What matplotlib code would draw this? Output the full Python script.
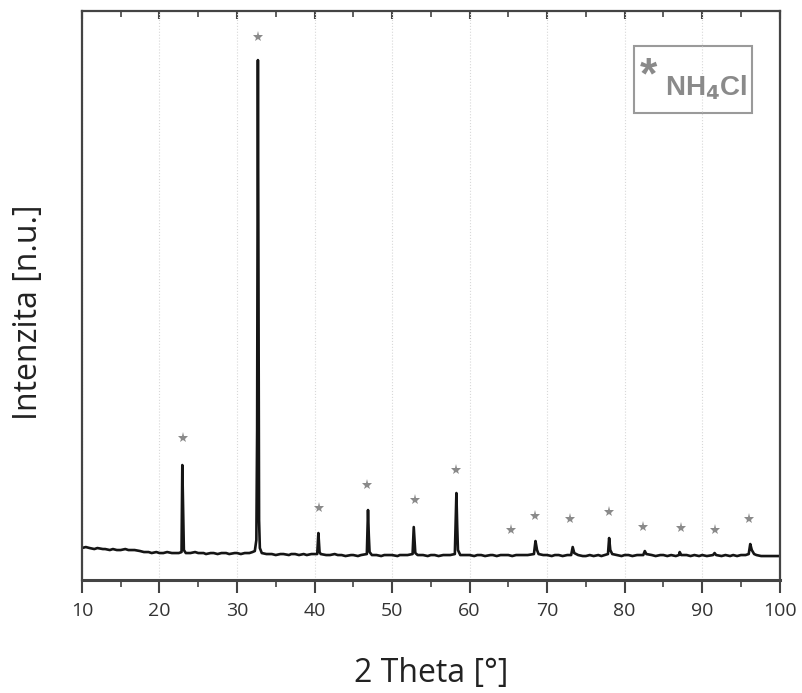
import matplotlib
matplotlib.use("Agg")
import matplotlib.pyplot as plt
from matplotlib.patches import Rectangle
from matplotlib.ticker import MultipleLocator

# diffraction pattern (2 theta, intensity in n.u.)
two_theta = [10, 10.5, 11, 11.6, 12, 12.7, 13, 13.6, 14, 14.5, 15, 15.6, 16, 16.8, 17.5, 18, 18.6,
             19, 19.6, 20, 20.5, 21, 21.6, 22, 22.5,
             22.85, 22.95, 23.05, 23.15, 23.4, 24, 24.6, 25, 25.7, 26, 26.6, 27, 27.5, 28,
             28.6, 29, 29.7, 30, 30.5, 31, 31.6, 32, 32.3,
             32.5, 32.6, 32.7, 32.78, 32.85, 32.95, 33.2, 33.8, 34.5, 35, 35.6, 36, 36.7,
             37, 37.5, 38, 38.6, 39, 39.6, 40, 40.35,
             40.5, 40.65, 40.8, 41.5, 42, 42.6, 43, 43.5, 44, 44.7, 45, 45.6, 46, 46.75,
             46.9, 47.0, 47.1, 47.4, 48, 48.6, 49, 49.5, 50, 50.7, 51, 51.5, 52, 52.65,
             52.8, 52.9, 53.0, 53.3, 54, 54.6, 55, 55.5, 56, 56.6, 57, 57.5, 58.1,
             58.3, 58.4, 58.5, 58.8, 59.5, 60, 60.6, 61, 61.5, 62, 62.7, 63, 63.5, 64,
             64.6, 65, 65.5, 66, 66.6, 67, 67.5, 68.3,
             68.5, 68.7, 68.9, 69.5, 70, 70.6, 71, 71.5, 72, 72.6, 73.1,
             73.3, 73.5, 74, 74.6, 75, 75.5, 76, 76.6, 77, 77.85,
             78.0, 78.15, 78.4, 79, 79.6, 80, 80.5, 81, 81.6, 82.4,
             82.6, 82.8, 83.5, 84, 84.6, 85, 85.5, 86, 86.6, 87.0,
             87.1, 87.3, 88, 88.5, 89, 89.6, 90, 90.6, 91.4,
             91.6, 91.8, 92.5, 93, 93.6, 94, 94.5, 95, 95.6, 96.0,
             96.2, 96.4, 96.7, 97, 97.6, 98, 98.5, 99, 99.5, 100]
intensity = [32, 33, 32, 31, 32, 31, 31, 30, 31, 30, 30, 31, 30, 30, 29, 28, 28,
             27, 28, 27, 27, 28, 27, 27, 27,
             28, 115, 73, 30, 27, 27, 28, 27, 27, 26, 27, 27, 26, 27,
             27, 26, 27, 27, 26, 27, 27, 28, 29,
             40, 150, 520, 290, 60, 32, 27, 26, 26, 25, 26, 26, 25,
             26, 26, 25, 26, 25, 26, 26, 26,
             47, 28, 26, 25, 25, 26, 25, 25, 24, 25, 25, 24, 25, 26,
             70, 45, 28, 25, 25, 24, 25, 25, 25, 24, 25, 25, 25, 26,
             53, 40, 27, 25, 25, 24, 25, 25, 24, 25, 25, 25, 26,
             87, 55, 30, 25, 25, 25, 24, 25, 25, 24, 25, 25, 24, 25,
             25, 25, 24, 25, 25, 25, 25, 26,
             39, 30, 26, 25, 25, 24, 25, 25, 24, 25, 25,
             33, 27, 25, 24, 24, 25, 24, 25, 24, 26,
             42, 30, 26, 25, 24, 25, 25, 24, 25, 25,
             29, 26, 25, 24, 25, 25, 24, 25, 24, 25,
             28, 25, 25, 24, 25, 24, 25, 24, 25,
             27, 25, 24, 25, 24, 25, 24, 25, 25, 26,
             36, 30, 26, 25, 24, 24, 24, 24, 24, 24]

# NH4Cl reflections marked with stars
star_pos = [23.0, 32.7, 40.6, 46.8, 52.9, 58.3, 65.3, 68.5, 72.9, 78.0, 82.4, 87.3, 91.6, 96.1]
star_height = [142, 543, 72, 95, 80, 110, 50, 64, 61, 68, 53, 52, 50, 61]

plt.rcParams['font.family'] = ['Open Sans', 'DejaVu Sans']

fig = plt.figure(figsize=(8.03, 6.93), dpi=100)
ax = fig.add_axes([0.102, 0.163, 0.869, 0.821])

ax.plot(two_theta, intensity, color="#151515", linewidth=1.9)
ax.plot(star_pos, star_height, linestyle="none", marker="*", markersize=8,
        color="#8a8a8a", markeredgewidth=0)

ax.set_xlim(10, 100)
ax.set_ylim(0, 569)
ax.xaxis.set_major_locator(MultipleLocator(10))
ax.xaxis.set_minor_locator(MultipleLocator(5))
ax.set_yticks([])
ax.grid(True, axis="x", color="#d8d8d8", linestyle=":", linewidth=0.8)

ax.tick_params(axis="x", which="major", direction="out", length=9, width=1.5,
               color="#444444", labelsize=14, labelcolor="#333333", pad=7)
ax.tick_params(axis="x", which="minor", direction="out", length=5, width=1.2, color="#444444")
# mirrored ticks on top, pointing inward
top = ax.secondary_xaxis("top")
top.xaxis.set_major_locator(MultipleLocator(10))
top.xaxis.set_minor_locator(MultipleLocator(5))
top.tick_params(axis="x", which="major", direction="in", length=6, width=1.5,
                color="#444444", labeltop=False)
top.tick_params(axis="x", which="minor", direction="in", length=4, width=1.2, color="#444444")
top.spines["top"].set_visible(False)

for s in ax.spines.values():
    s.set_color("#444444")
    s.set_linewidth(1.6)
ax.spines["bottom"].set_linewidth(2.2)

ax.set_xlabel("2 Theta [°]", fontsize=23, color="#222222")
ax.xaxis.set_label_coords(0.5, -0.136)
ax.set_ylabel("Intenzita [n.u.]", fontsize=23, color="#222222")
ax.yaxis.set_label_coords(-0.053, 0.471)

# legend box
ax.add_patch(Rectangle((0.791, 0.821), 0.169, 0.117, transform=ax.transAxes,
                       fill=False, edgecolor="#9a9a9a", linewidth=1.5))
ax.text(0.812, 0.884, "*", transform=ax.transAxes, fontsize=32, fontweight="bold",
        color="#8a8a8a", ha="center", va="center", family="Liberation Sans")
ax.text(0.836, 0.852, r"NH$_\mathbf{4}$Cl", transform=ax.transAxes, fontsize=20,
        fontweight="bold", color="#8a8a8a", ha="left", va="baseline", family="Liberation Sans")

fig.savefig("out.png", dpi=100)
